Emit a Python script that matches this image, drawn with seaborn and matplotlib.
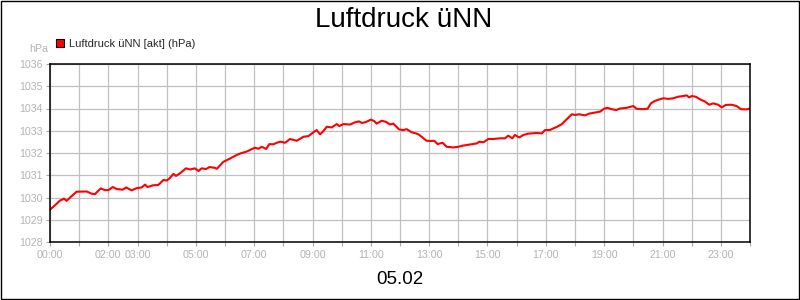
import matplotlib
matplotlib.use("Agg")
import matplotlib.pyplot as plt
from matplotlib.lines import Line2D
from matplotlib.patches import Rectangle
import seaborn as sns
import pandas as pd

# ---- data ----
time_h = [0.00, 0.17, 0.34, 0.48, 0.57, 0.69, 0.91, 1.26, 1.43, 1.54, 1.74, 1.89, 2.00, 2.15, 2.29,
          2.49, 2.61, 2.80, 2.97, 3.14, 3.26, 3.34, 3.54, 3.71, 3.89, 4.00, 4.09, 4.23, 4.32, 4.46,
          4.66, 4.80, 4.97, 5.09, 5.20, 5.35, 5.47, 5.66, 5.72, 5.94, 6.17, 6.40, 6.57, 6.74, 6.91,
          7.03, 7.14, 7.26, 7.41, 7.52, 7.66, 7.77, 7.91, 8.06, 8.23, 8.46, 8.69, 8.86, 9.03, 9.14,
          9.26, 9.37, 9.49, 9.66, 9.83, 9.92, 10.06, 10.29, 10.46, 10.60, 10.69, 10.83, 11.00, 11.11,
          11.20, 11.37, 11.52, 11.66, 11.77, 11.97, 12.11, 12.23, 12.40, 12.55, 12.63, 12.74, 12.91,
          13.03, 13.17, 13.29, 13.46, 13.60, 13.83, 14.00, 14.15, 14.29, 14.46, 14.63, 14.72, 14.86,
          15.03, 15.20, 15.43, 15.60, 15.71, 15.85, 15.94, 16.09, 16.23, 16.40, 16.69, 16.86, 16.97,
          17.14, 17.23, 17.37, 17.54, 17.71, 17.89, 18.00, 18.14, 18.34, 18.49, 18.66, 18.86, 19.00,
          19.11, 19.26, 19.41, 19.54, 19.77, 20.00, 20.11, 20.29, 20.49, 20.60, 20.74, 20.89, 21.03,
          21.20, 21.37, 21.54, 21.71, 21.83, 21.91, 22.00, 22.14, 22.29, 22.46, 22.60, 22.74, 22.91,
          23.03, 23.17, 23.37, 23.54, 23.69, 23.89, 24.00]
pressure = [1029.45, 1029.65, 1029.86, 1029.95, 1029.85, 1030.00, 1030.26, 1030.27, 1030.17, 1030.15,
            1030.41, 1030.33, 1030.33, 1030.47, 1030.38, 1030.35, 1030.45, 1030.32, 1030.42, 1030.45,
            1030.58, 1030.47, 1030.55, 1030.56, 1030.79, 1030.76, 1030.85, 1031.06, 1030.97, 1031.09,
            1031.31, 1031.26, 1031.31, 1031.19, 1031.31, 1031.28, 1031.37, 1031.33, 1031.29, 1031.60,
            1031.75, 1031.91, 1032.00, 1032.06, 1032.17, 1032.24, 1032.19, 1032.28, 1032.18, 1032.40,
            1032.39, 1032.46, 1032.51, 1032.46, 1032.63, 1032.55, 1032.73, 1032.76, 1032.93, 1033.03,
            1032.84, 1032.98, 1033.18, 1033.15, 1033.30, 1033.21, 1033.30, 1033.28, 1033.38, 1033.42,
            1033.35, 1033.39, 1033.50, 1033.44, 1033.32, 1033.45, 1033.40, 1033.28, 1033.32, 1033.06,
            1033.03, 1033.07, 1032.93, 1032.88, 1032.84, 1032.73, 1032.55, 1032.54, 1032.55, 1032.40,
            1032.46, 1032.28, 1032.25, 1032.28, 1032.33, 1032.36, 1032.40, 1032.43, 1032.51, 1032.48,
            1032.63, 1032.63, 1032.66, 1032.66, 1032.78, 1032.66, 1032.81, 1032.70, 1032.81, 1032.87,
            1032.90, 1032.88, 1033.03, 1033.03, 1033.09, 1033.17, 1033.29, 1033.51, 1033.74, 1033.71,
            1033.74, 1033.69, 1033.77, 1033.81, 1033.86, 1033.99, 1034.03, 1033.97, 1033.93, 1034.00,
            1034.03, 1034.11, 1033.99, 1033.97, 1033.99, 1034.23, 1034.34, 1034.41, 1034.46, 1034.43,
            1034.46, 1034.53, 1034.56, 1034.59, 1034.50, 1034.56, 1034.53, 1034.41, 1034.31, 1034.17,
            1034.23, 1034.17, 1034.05, 1034.16, 1034.17, 1034.11, 1033.97, 1033.96, 1034.00]

x_tick_hours = list(range(0, 25))
x_label_text = {0: "00:00", 2: "02:00", 3: "03:00", 5: "05:00", 7: "07:00", 9: "09:00",
                11: "11:00", 13: "13:00", 15: "15:00", 17: "17:00", 19: "19:00",
                21: "21:00", 23: "23:00"}
y_ticks = [1028, 1029, 1030, 1031, 1032, 1033, 1034, 1035, 1036]
title = "Luftdruck üNN"
series_label = "Luftdruck üNN [akt] (hPa)"
unit_label = "hPa"
date_label = "05.02"

# ---- style ----
sns.set_style("white")
plt.rcParams["font.family"] = ["Liberation Sans", "DejaVu Sans"]

GRAY_TXT = "#b4b4b4"
GRID = "#c0c0c0"
TICK = "#a8a8a8"

fig = plt.figure(figsize=(8, 3), dpi=100)
ax = fig.add_axes([50 / 800, 58 / 300, 700 / 800, 178 / 300])

df = pd.DataFrame({"t": time_h, "p": pressure})
sns.lineplot(data=df, x="t", y="p", color="#ff0000", linewidth=1.5, ax=ax, legend=False)

ax.set_xlim(0, 24)
ax.set_ylim(1028, 1036)
ax.set_xticks(x_tick_hours)
ax.set_xticklabels([x_label_text.get(h, "") for h in x_tick_hours])
ax.set_yticks(y_ticks)
ax.set_yticklabels([str(v) for v in y_ticks])
ax.set_xlabel("")
ax.set_ylabel("")

ax.grid(True, color=GRID, linewidth=0.9)
ax.set_axisbelow(True)
for s in ax.spines.values():
    s.set_visible(True)
    s.set_color("black")
    s.set_linewidth(1.1)

ax.tick_params(axis="both", which="major", direction="out", length=3.2, width=0.8,
               color=TICK, labelcolor=GRAY_TXT, labelsize=7.7, pad=2)
ax.tick_params(axis="x", bottom=True, pad=2.5)
ax.tick_params(axis="y", left=True, pad=1.8)

# legend
handle = Line2D([], [], linestyle="none", marker="s", markersize=5.2,
                markerfacecolor="#ff0000", markeredgecolor="black", markeredgewidth=0.8)
fig.legend([handle], [series_label], loc="center left",
           bbox_to_anchor=(56 / 800, 1 - 44 / 300), bbox_transform=fig.transFigure,
           frameon=False, fontsize=8, handlelength=0.8, handletextpad=0.4,
           borderpad=0, borderaxespad=0)

fig.text(48 / 800, 1 - 49 / 300, unit_label, ha="right", va="center",
         color=GRAY_TXT, fontsize=7.7)
fig.text(403.5 / 800, 1 - 27 / 300, title, ha="center", va="baseline",
         fontsize=20, color="black")
fig.text(400 / 800, 1 - 284 / 300, date_label, ha="center", va="baseline",
         fontsize=13.5, color="black")

fig.patches.append(Rectangle((0.6 / 800, 0.6 / 300), 798.8 / 800, 298.8 / 300,
                             transform=fig.transFigure, fill=False,
                             edgecolor="black", linewidth=1.0))

fig.savefig("out.png", dpi=100)
